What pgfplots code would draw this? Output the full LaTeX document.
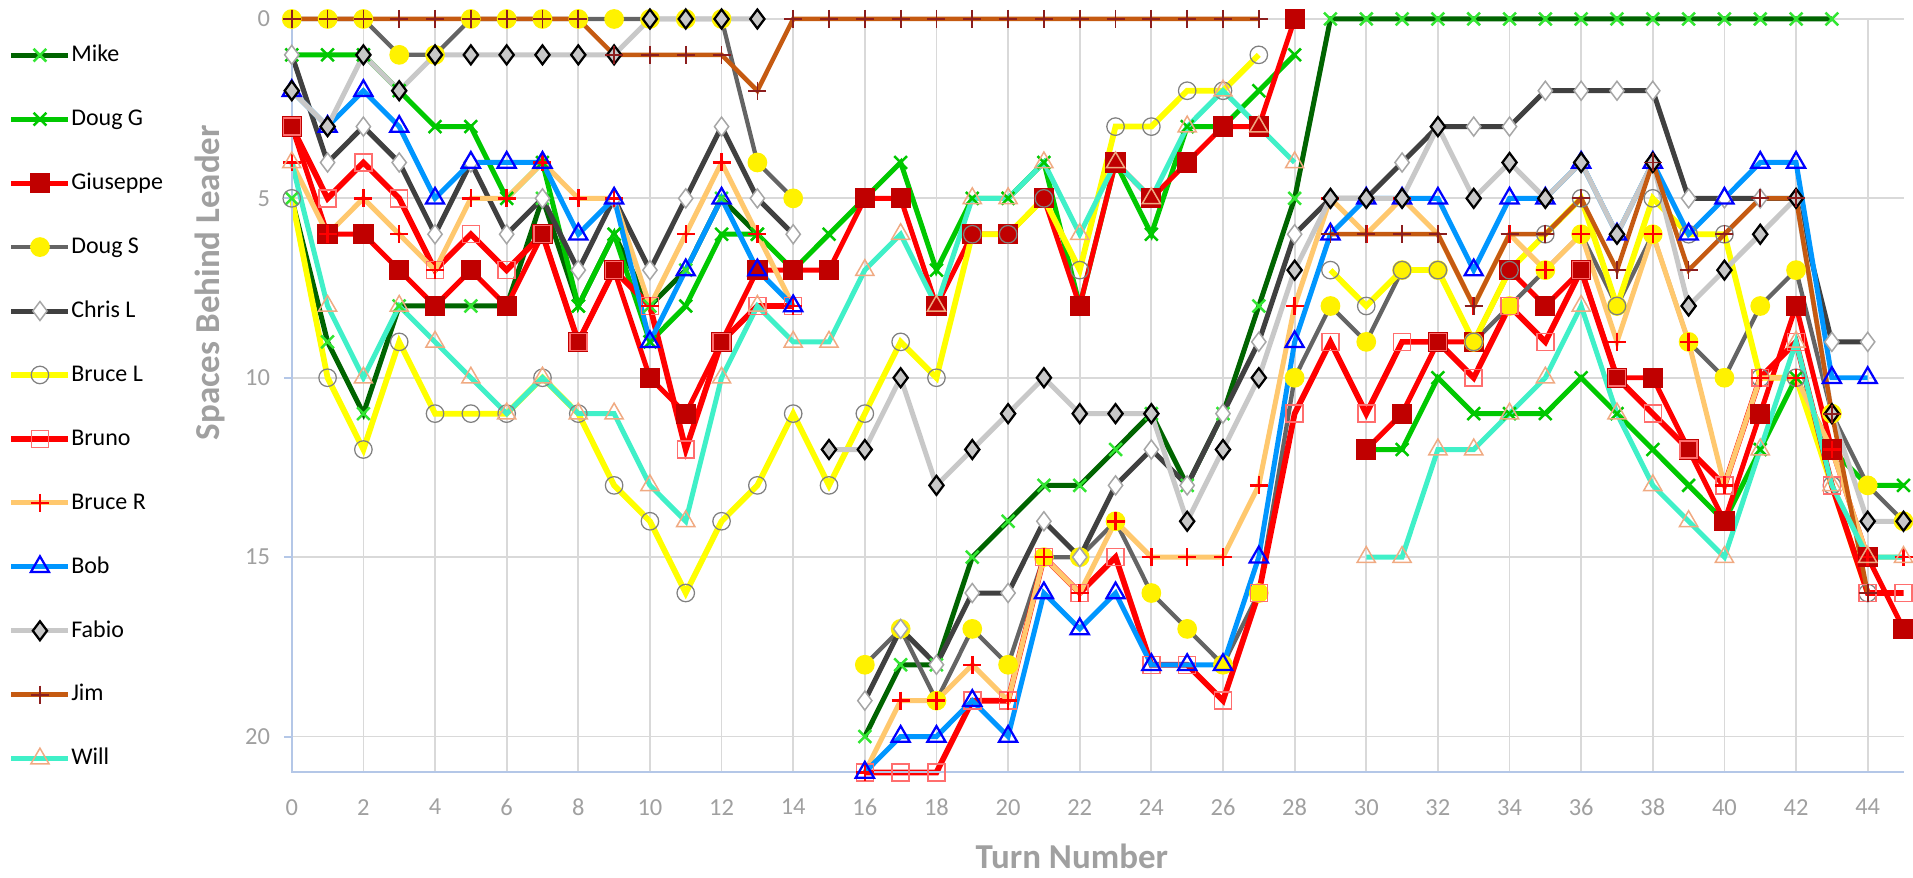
\documentclass[border=0pt]{standalone}
\usepackage{fontspec}
\setmainfont{Carlito}
\usepackage{pgfplots}
\usepackage{pgfplotstable}
\pgfplotsset{compat=1.18}

\definecolor{mikeline}{RGB}{0,100,0}
\definecolor{mikemark}{RGB}{50,230,50}
\definecolor{douggline}{RGB}{0,200,0}
\definecolor{giusmark}{RGB}{192,0,0}
\definecolor{dougsline}{RGB}{100,100,100}
\definecolor{chrisline}{RGB}{64,64,64}
\definecolor{brucelline}{RGB}{255,255,0}
\definecolor{brunomark}{RGB}{255,110,110}
\definecolor{brucerline}{RGB}{255,200,110}
\definecolor{bobline}{RGB}{0,150,255}
\definecolor{fabioline}{RGB}{200,200,200}
\definecolor{jimline}{RGB}{197,90,17}
\definecolor{jimmark}{RGB}{140,30,30}
\definecolor{willline}{RGB}{64,240,200}
\definecolor{willmark}{RGB}{240,170,130}
\definecolor{axisblue}{RGB}{180,199,231}
\definecolor{labelgray}{RGB}{160,160,160}
\definecolor{gridgray}{RGB}{217,217,217}

% spaces behind leader per turn, nan = no position that turn
\pgfplotstableread{
t  Mike DougG Gius DougS ChrisL BruceL Bruno BruceR Bob Fabio Jim Will
0  5    1     3    0     1      5      3     4      2   2     0   4
1  9    1     6    0     4      10     5     6      3   3     0   8
2  11   1     6    0     3      12     4     5      2   1     0   10
3  8    2     7    1     4      9      5     6      3   2     0   8
4  8    3     8    1     6      11     7     7      5   1     0   9
5  8    3     7    0     4      11     6     5      4   1     0   10
6  8    5     8    0     6      11     7     5      4   1     0   11
7  5    4     6    0     5      10     6     4      4   1     0   10
8  8    8     9    0     7      11     9     5      6   1     0   11
9  6    6     7    0     5      13     7     5      5   1     1   11
10 8    9     10   0     7      14     8     8      9   0     1   13
11 7    8     11   0     5      16     12    6      7   0     1   14
12 5    6     9    0     3      14     9     4      5   0     1   10
13 6    6     7    4     5      13     8     6      7   0     2   8
14 nan  7     7    5     6      11     8     8      8   nan   0   9
15 nan  6     7    nan   nan    13     nan   nan    nan 12    0   9
16 20   5     5    18    19     11     21    21     21  12    0   7
17 18   4     5    17    17     9      21    19     20  10    0   6
18 18   7     8    19    18     10     21    19     20  13    0   8
19 15   5     6    17    16     6      19    18     19  12    0   5
20 14   5     6    18    16     6      19    19     20  11    0   5
21 13   4     5    15    14     5      15    15     16  10    0   4
22 13   8     8    15    15     7      16    16     17  11    0   6
23 12   4     4    14    13     3      15    14     16  11    0   4
24 11   6     5    16    12     3      18    15     18  11    0   5
25 13   3     4    17    13     2      18    15     18  14    0   3
26 11   3     3    18    11     2      19    15     18  12    0   2
27 8    2     3    16    9      1      16    13     15  10    0   3
28 5    1     0    10    6      nan    11    8      9   7     nan 4
29 0    nan   nan  8     5      7      9     5      6   5     6   nan
30 0    12    12   9     5      8      11    6      5   5     6   15
31 0    12    11   7     4      7      9     5      5   5     6   15
32 0    10    9    7     3      7      9     6      5   3     6   12
33 0    11    9    9     3      9      10    8      7   5     8   12
34 0    11    7    8     3      7      8     6      5   4     6   11
35 0    11    8    7     2      6      9     7      5   5     6   10
36 0    10    7    6     2      5      7     6      4   4     5   8
37 0    11    10   8     2      8      10    9      6   6     7   11
38 0    12    10   6     2      5      11    6      4   4     4   13
39 0    13    12   9     5      6      12    9      6   8     7   14
40 0    14    14   10    5      6      13    13     5   7     6   15
41 0    12    11   8     5      10     10    10     4   6     5   12
42 0    10    8    7     5      10     9     10     4   5     5   9
43 0    12    12   11    9      13     13    12     10  11    11  13
44 nan  13    15   13    9      16     16    15     10  14    16  15
45 nan  13    17   14    nan    nan    16    15     nan 14    nan 15
}\race

\begin{document}
\begin{tikzpicture}
\begin{axis}[
    name=ax,
    scale only axis,
    width=645.2pt, height=301.6pt,
    xmin=0, xmax=45, ymin=0, ymax=21,
    y dir=reverse,
    unbounded coords=jump,
    clip=false,
    axis line style={draw=none},
    xtick={0,2,...,44},
    ytick={0,5,10,15,20},
    xticklabel pos=left,
    ytick pos=left,
    xtick style={draw=none},
    ytick style={draw=axisblue, line width=0.8pt},
    tick align=outside,
    major tick length=3.2pt,
    xmajorgrids, ymajorgrids,
    grid style={gridgray, line width=0.7pt},
    ticklabel style={font=\fontsize{9.8}{11}\selectfont, text=labelgray},
    /pgf/number format/assume math mode=true,
    xticklabel style={yshift=-4pt},
    yticklabel style={xshift=-2pt},
    xlabel={Turn Number},
    ylabel={Spaces Behind Leader},
    label style={font=\fontsize{14}{16}\bfseries, text=labelgray},
    xlabel style={at={(axis description cs:0.484,-0.112)}, anchor=center},
    ylabel style={at={(axis description cs:-0.0508,0.65)}, anchor=center},
    every axis plot/.append style={line width=2pt},
    legend style={at={(axis description cs:-0.176,0.9675)}, anchor=north west,
        draw=none, fill=none, inner sep=0pt, row sep=16.6pt,
        font=\fontsize{9.6}{11}\selectfont,
        nodes={inner sep=0pt, text height=7pt, text depth=2pt},
        /tikz/every even column/.append style={column sep=4pt}},
    legend cell align=left,
    legend image code/.code={\draw[mark repeat=2,mark phase=2] plot coordinates {(0pt,0pt) (11.4pt,0pt) (22.8pt,0pt)};},
]
\addplot[mikeline, mark=x, mark size=3.6pt, mark options={draw=mikemark, line width=1pt}] table[x=t,y=Mike]{\race};
\addlegendentry{Mike}
\addplot[douggline, mark=x, mark size=3.6pt, mark options={draw=douggline, line width=1pt}] table[x=t,y=DougG]{\race};
\addlegendentry{Doug G}
\addplot[red, mark=square*, mark size=3.8pt, mark options={draw=giusmark, fill=giusmark, line width=0.5pt}] table[x=t,y=Gius]{\race};
\addlegendentry{Giuseppe}
\addplot[dougsline, line width=1.7pt, mark=*, mark size=3.7pt, mark options={draw=yellow, fill=yellow, line width=0.5pt}] table[x=t,y=DougS]{\race};
\addlegendentry{Doug S}
\addplot[chrisline, mark=diamond*, mark size=3.8pt, mark options={draw=gray!70, fill=white, line width=0.6pt}] table[x=t,y=ChrisL]{\race};
\addlegendentry{Chris L}
\addplot[brucelline, line width=2.3pt, mark=o, mark size=3.5pt, mark options={draw=gray, line width=0.5pt}] table[x=t,y=BruceL]{\race};
\addlegendentry{Bruce L}
\addplot[red, line width=2.3pt, mark=square, mark size=3.4pt, mark options={draw=brunomark, line width=0.6pt}] table[x=t,y=Bruno]{\race};
\addlegendentry{Bruno}
\addplot[brucerline, mark=+, mark size=3.6pt, mark options={draw=red, line width=1pt}] table[x=t,y=BruceR]{\race};
\addlegendentry{Bruce R}
\addplot[bobline, mark=triangle, mark size=4.2pt, mark options={draw=blue, line width=0.9pt}] table[x=t,y=Bob]{\race};
\addlegendentry{Bob}
\addplot[fabioline, mark=diamond*, mark size=3.8pt, mark options={draw=black, fill=fabioline, line width=0.9pt}] table[x=t,y=Fabio]{\race};
\addlegendentry{Fabio}
\addplot[jimline, line width=1.8pt, mark=+, mark size=3.6pt, mark options={draw=jimmark, line width=0.7pt}] table[x=t,y=Jim]{\race};
\addlegendentry{Jim}
\addplot[willline, mark=triangle, mark size=4.2pt, mark options={draw=willmark, line width=0.6pt}] table[x=t,y=Will]{\race};
\addlegendentry{Will}
% axis lines
\draw[axisblue, line width=0.8pt] (axis cs:0,0) -- (axis cs:0,21) -- (axis cs:45,21);
\end{axis}
\path ([xshift=-116.8pt, yshift=-39.2pt]ax.south west) rectangle ([xshift=3.2pt, yshift=7.6pt]ax.north east);
\end{tikzpicture}
\end{document}
